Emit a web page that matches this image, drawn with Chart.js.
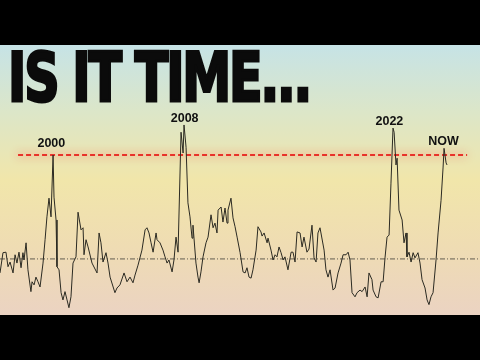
<!DOCTYPE html>
<html>
<head>
<meta charset="utf-8">
<script src="https://cdn.jsdelivr.net/npm/chart.js@4/dist/chart.umd.min.js"></script>
<style>
  html, body { margin: 0; padding: 0; background: #000; width: 480px; height: 360px; overflow: hidden; }
  #wrap { position: absolute; left: 0; top: 45px; width: 480px; height: 270px;
    background: linear-gradient(to bottom, #c6e3e6 0%, #dce6c8 25%, #f1e6aa 50%, #efdcb3 75%, #ebd3c2 100%); }
  #title { position: absolute; left: 8px; top: 44px; font-family: "DejaVu Sans", sans-serif; font-weight: bold;
    font-size: 68px; line-height: 1; color: #0b0b0b; white-space: nowrap; transform-origin: 0 0;
    -webkit-text-stroke: 3px #0b0b0b; letter-spacing: -3px; z-index: 5; }
</style>
</head>
<body>
<div id="wrap"><canvas id="c" width="480" height="270"></canvas></div>
<div id="title">IS IT TIME...</div>
<script>
// Indicator readings (decimal years) and values (mean = 0, alert threshold = 2)
const dates = [1996.70,1996.89,1997.08,1997.21,1997.34,1997.53,1997.66,1997.78,1997.91,1998.04,1998.16,1998.23,1998.36,1998.48,1998.67,1998.74,1998.87,1998.99,1999.12,1999.25,1999.44,1999.57,1999.69,1999.82,1999.95,2000.08,2000.14,2000.27,2000.33,2000.46,2000.59,2000.71,2000.84,2000.97,2001.09,2001.22,2001.35,2001.54,2001.67,2001.86,2001.99,2002.05,2002.18,2002.31,2002.56,2002.88,2003.01,2003.13,2003.26,2003.45,2003.58,2003.71,2004.02,2004.15,2004.34,2004.60,2004.79,2004.98,2005.17,2005.30,2005.49,2005.74,2005.94,2006.06,2006.19,2006.32,2006.45,2006.64,2006.70,2006.89,2007.08,2007.21,2007.34,2007.46,2007.66,2007.78,2007.91,2008.04,2008.23,2008.36,2008.42,2008.55,2008.67,2008.80,2008.93,2008.99,2009.18,2009.31,2009.38,2009.50,2009.63,2009.82,2009.95,2010.14,2010.27,2010.39,2010.52,2010.59,2010.78,2010.90,2011.03,2011.16,2011.22,2011.41,2011.54,2011.67,2011.80,2011.99,2012.18,2012.31,2012.43,2012.56,2012.69,2012.81,2013.01,2013.13,2013.32,2013.39,2013.52,2013.71,2013.77,2013.96,2014.09,2014.22,2014.34,2014.47,2014.60,2014.73,2014.85,2015.04,2015.24,2015.36,2015.49,2015.62,2015.81,2015.94,2016.06,2016.25,2016.38,2016.57,2016.70,2016.83,2016.95,2017.08,2017.34,2017.46,2017.59,2017.72,2017.91,2018.04,2018.23,2018.42,2018.55,2018.74,2018.87,2018.99,2019.12,2019.31,2019.44,2019.63,2019.76,2019.95,2020.08,2020.20,2020.39,2020.46,2020.65,2020.78,2020.97,2021.10,2021.22,2021.35,2021.48,2021.60,2021.73,2021.80,2021.92,2021.99,2022.11,2022.31,2022.43,2022.56,2022.62,2022.75,2022.88,2023.01,2023.13,2023.32,2023.45,2023.58,2023.77,2023.90,2024.02,2024.15,2024.28,2024.47,2024.60,2024.79,2024.92,2024.98,2025.11,2025.17];
const values = [-0.27,0.12,0.13,-0.15,-0.06,-0.27,0.08,-0.08,0.13,-0.17,0.12,-0.02,0.31,-0.21,-0.63,-0.44,-0.50,-0.35,-0.44,-0.54,-0.08,0.37,0.81,1.17,0.81,2.00,1.19,0.75,-0.15,-0.21,-0.65,-0.79,-0.63,-0.79,-0.94,-0.73,-0.08,0.04,0.90,0.56,0.60,0.08,0.37,0.23,-0.08,-0.27,0.50,0.31,-0.06,0.12,-0.08,-0.35,-0.65,-0.56,-0.50,-0.27,-0.44,-0.35,-0.46,-0.31,-0.12,0.17,0.56,0.60,0.50,0.31,0.13,0.50,0.37,0.31,0.17,0.04,-0.08,-0.02,-0.25,-0.02,0.42,0.13,2.44,2.04,2.58,2.15,1.08,0.81,0.40,0.65,-0.08,-0.35,-0.46,-0.25,0.04,0.31,0.42,0.85,0.60,0.69,0.50,0.94,1.00,0.71,0.98,0.69,0.94,1.17,0.79,0.62,0.42,0.12,-0.25,-0.27,-0.17,-0.35,-0.37,-0.21,0.17,0.62,0.52,0.44,0.50,0.31,0.40,0.17,-0.02,0.08,0.04,0.23,0.12,-0.02,0.04,-0.21,0.13,0.13,-0.06,0.52,0.50,0.23,0.42,0.13,0.19,0.65,0.02,-0.06,0.50,0.60,0.17,-0.21,-0.35,-0.21,-0.60,-0.56,-0.27,-0.08,0.08,0.08,0.13,-0.02,-0.65,-0.73,-0.65,-0.60,-0.63,-0.54,-0.73,-0.27,-0.40,-0.60,-0.73,-0.75,-0.44,-0.44,0.02,0.42,0.46,1.46,2.52,2.44,1.81,1.94,0.94,0.75,0.31,0.50,0.04,0.13,-0.06,0.12,0.02,0.12,-0.08,-0.40,-0.56,-0.79,-0.88,-0.73,-0.65,-0.02,0.50,1.13,1.77,2.13,1.85,1.81];

// Reference lines
const thresholdValue = 2;
const thresholdRange = [1997.85, 2026.45];
const meanValue = 0;
const meanRange = [1996.7, 2027.27];

// Annotations
const labelNames = ['2000', '2008', '2022', 'NOW'];
const labelYears = [1999.97, 2008.46, 2021.50, 2024.95];
const labelValues = [2.16, 2.63, 2.58, 2.19];

const series = dates.map((d, i) => ({ x: d, y: values[i] }));

const glowPlugin = {
  id: 'glow',
  beforeDatasetDraw(chart, args) {
    if (args.index === 1) {
      chart.ctx.save();
      chart.ctx.shadowColor = 'rgba(255,60,50,0.9)';
      chart.ctx.shadowBlur = 8;
    }
  },
  afterDatasetDraw(chart, args) {
    if (args.index === 1) chart.ctx.restore();
  }
};

const labelPlugin = {
  id: 'peakLabels',
  afterDatasetsDraw(chart) {
    const ctx = chart.ctx, xs = chart.scales.x, ys = chart.scales.y;
    ctx.save();
    ctx.font = 'bold 12.5px "Liberation Sans", sans-serif';
    ctx.fillStyle = '#111';
    ctx.textAlign = 'center';
    ctx.textBaseline = 'alphabetic';
    labelNames.forEach((t, i) => {
      ctx.fillText(t, xs.getPixelForValue(labelYears[i]), ys.getPixelForValue(labelValues[i]));
    });
    ctx.restore();
  }
};

new Chart(document.getElementById('c'), {
  type: 'line',
  data: {
    datasets: [
      { data: [{ x: meanRange[0], y: meanValue }, { x: meanRange[1], y: meanValue }],
        borderColor: '#3f3e36', borderWidth: 0.8, borderDash: [5, 2, 1, 2], pointRadius: 0, order: 3 },
      { data: [{ x: thresholdRange[0], y: thresholdValue }, { x: thresholdRange[1], y: thresholdValue }],
        borderColor: '#e8322a', borderWidth: 2, borderDash: [5, 3], pointRadius: 0, order: 2 },
      { data: series, borderColor: '#2b2a22', borderWidth: 1, pointRadius: 0, tension: 0, order: 1 }
    ]
  },
  options: {
    responsive: false,
    animation: false,
    layout: { padding: 0 },
    plugins: { legend: { display: false }, tooltip: { enabled: false }, title: { display: false } },
    scales: {
      x: { type: 'linear', min: 1996.7, max: 2027.27, display: false },
      y: { type: 'linear', min: -1.08, max: 4.12, display: false }
    },
    elements: { line: { borderCapStyle: 'butt' } }
  },
  plugins: [glowPlugin, labelPlugin]
});

// Fit the headline to the reference width
const title = document.getElementById('title');
const w = title.getBoundingClientRect().width;
title.style.transform = 'scaleX(' + (302 / w) + ')';
</script>
</body>
</html>
